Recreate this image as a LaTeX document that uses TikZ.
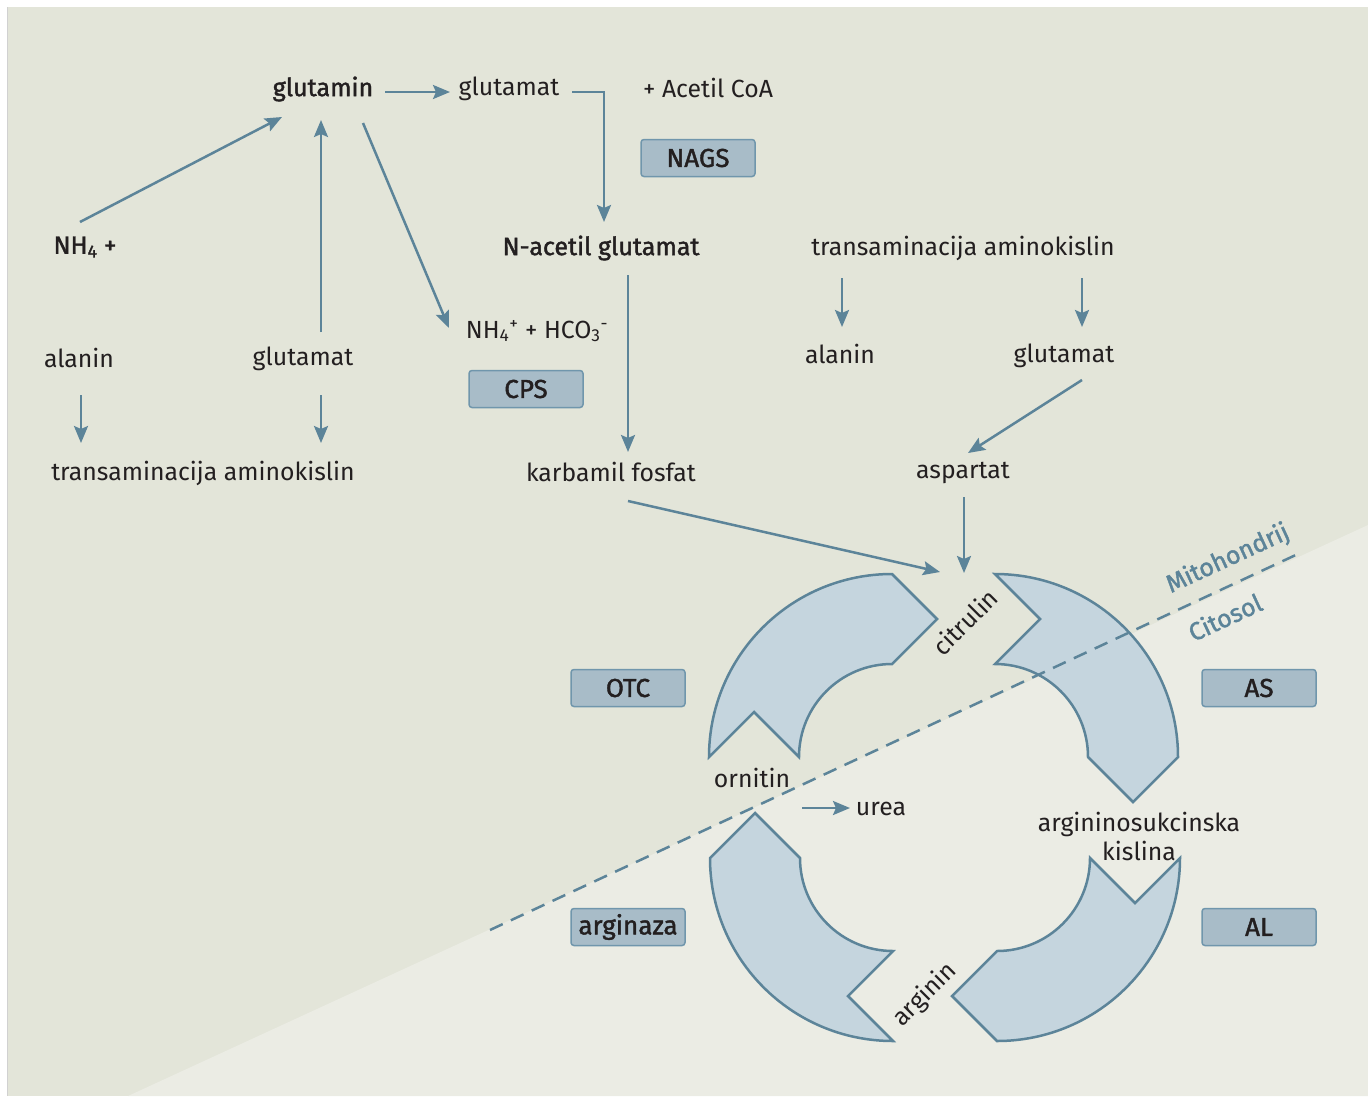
\documentclass[tikz,border=0pt]{standalone}
\usepackage{fontspec}
\setmainfont{Fira Sans}[BoldFont=Fira Sans, BoldFeatures={FakeBold=1.6}]
\usetikzlibrary{arrows.meta,calc}

\definecolor{panel}{HTML}{E3E5D9}
\definecolor{cytosol}{HTML}{EBECE4}
\definecolor{steel}{HTML}{5C8499}
\definecolor{boxfill}{HTML}{A8BCC8}
\definecolor{boxline}{HTML}{7096AC}
\definecolor{cycfill}{HTML}{C5D5DE}
\definecolor{ink}{HTML}{231F20}

\tikzset{
  arr/.style={steel, line width=2.5pt, -{Stealth[length=17pt,width=14pt,inset=3pt]}},
  txt/.style={text=ink, font=\fontsize{24.8}{29}\selectfont, inner sep=2pt},
  boldtxt/.style={txt, font=\fontsize{25}{29}\selectfont\bfseries},
  enz/.style={draw=boxline, fill=boxfill, line width=1.5pt, rounded corners=3pt,
    minimum width=114pt, minimum height=37pt, inner sep=0pt, text=ink,
    font=\fontsize{26}{30}\selectfont\bfseries},
  cyc/.style={draw=steel, fill=cycfill, line width=2.5pt, line join=miter},
  memb/.style={text=steel, font=\fontsize{25}{28}\selectfont\bfseries, rotate=24.8}
}

\begin{document}
\begin{tikzpicture}[x=1pt,y=-1pt]
\useasboundingbox (0,0) rectangle (1368,1096);
\fill[white] (0,0) rectangle (1368,1096);
\fill[panel] (7,7) rectangle (1368,1096);
\draw[black!18, line width=1pt] (7.5,7) -- (7.5,1096);
\fill[cytosol] (128,1096) -- (1368,525) -- (1368,1096) -- cycle;

% urea cycle
\draw[cyc] (892,757) ++(180:183) arc[start angle=180,end angle=270,radius=183]
  -- ++(45,45) -- ++(-45,45) arc[start angle=270,end angle=180,radius=93]
  -- ++(-45,-45) -- cycle;
\draw[cyc] (995,757) ++(270:183) arc[start angle=270,end angle=360,radius=183]
  -- ++(-45,45) -- ++(-45,-45) arc[start angle=0,end angle=-90,radius=93]
  -- ++(45,-45) -- cycle;
\draw[cyc] (997,858) ++(0:183) arc[start angle=0,end angle=90,radius=183]
  -- ++(-45,-45) -- ++(45,-45) arc[start angle=90,end angle=0,radius=93]
  -- ++(45,45) -- cycle;
\draw[cyc] (893,858) ++(90:183) arc[start angle=90,end angle=180,radius=183]
  -- ++(45,-45) -- ++(45,45) arc[start angle=180,end angle=90,radius=93]
  -- ++(-45,45) -- cycle;

% membrane
\draw[steel, line width=2.5pt, dash pattern=on 14pt off 9pt] (490,930) -- (1300,553);
\node[memb] (mito) at (1228,559) {Mitohondrij};
\node[memb] (cito) at (1225,617) {Citosol};

% nodes
\node[boldtxt] (glutamin) at (323,89) {glutamin};
\node[txt] (glutamatT) at (509,89) {glutamat};
\node[txt] (acetil) at (708,88) {+ Acetil CoA};
\node[enz] (nags) at (698,158) {NAGS};
\node[boldtxt] (nh4) at (85,247) {NH\textsubscript{4} +};
\node[boldtxt] (nacetil) at (601,248) {N-acetil glutamat};
\node[txt] (transR) at (963,248) {transaminacija aminokislin};
\node[txt] (nhco) at (537,331) {NH\textsubscript{4}\textsuperscript{+} + HCO\textsubscript{3}\textsuperscript{-}};
\node[enz] (cps) at (526,389) {CPS};
\node[txt] (alaninL) at (79,358) {alanin};
\node[txt] (glutamatL) at (303,359) {glutamat};
\node[txt] (alaninR) at (840,354) {alanin};
\node[txt] (glutamatR) at (1064,356) {glutamat};
\node[txt] (transL) at (203,473) {transaminacija aminokislin};
\node[txt] (karbamil) at (611,472) {karbamil fosfat};
\node[txt] (aspartat) at (963,473) {aspartat};
\node[txt, rotate=45] (citrulin) at (965,622) {citrulin};
\node[txt] (ornitin) at (752,778) {ornitin};
\node[txt] (urea) at (881,809) {urea};
\node[txt, align=center] (argsuk) at (1139,836) {argininosukcinska\\kislina};
\node[txt, rotate=45] (arginin) at (925,995) {arginin};
\node[enz] (otc) at (628,688) {OTC};
\node[enz] (as) at (1259,688) {AS};
\node[enz] (arginaza) at (628,927) {arginaza};
\node[enz] (al) at (1259,927) {AL};

% arrows
\draw[arr] ($(nh4)+(-5,-25)$) -- ($(glutamin)+(-41,28)$);
\draw[arr] ($(glutamatL)+(18,-27)$) -- ($(glutamin)+(-2,31)$);
\draw[arr] ($(glutamin)+(40,34)$) -- ($(nhco)+(-88,-3)$);
\draw[arr] ($(glutamin)+(62,3)$) -- ($(glutamatT)+(-59,3)$);
\draw[arr] ($(glutamatT)+(63,3)$) -| ($(nacetil)+(3,-26)$);
\draw[arr] ($(nacetil)+(27,27)$) -- ($(karbamil)+(17,-20)$);
\draw[arr] ($(alaninL)+(2,37)$) -- ($(transL)+(-122,-30)$);
\draw[arr] ($(glutamatL)+(18,36)$) -- ($(transL)+(118,-30)$);
\draw[arr] ($(transR)+(-121,30)$) -- ($(alaninR)+(2,-27)$);
\draw[arr] ($(transR)+(119,30)$) -- ($(glutamatR)+(18,-29)$);
\draw[arr] ($(glutamatR)+(18,24)$) -- ($(aspartat)+(5,-20)$);
\draw[arr] ($(aspartat)+(1,24)$) -- ($(citrulin)+(-1,-49)$);
\draw[arr] ($(karbamil)+(17,29)$) -- ($(citrulin)+(-25,-50)$);
\draw[arr] ($(ornitin)+(50,30)$) -- ($(urea)+(-31,-1)$);
\end{tikzpicture}
\end{document}
